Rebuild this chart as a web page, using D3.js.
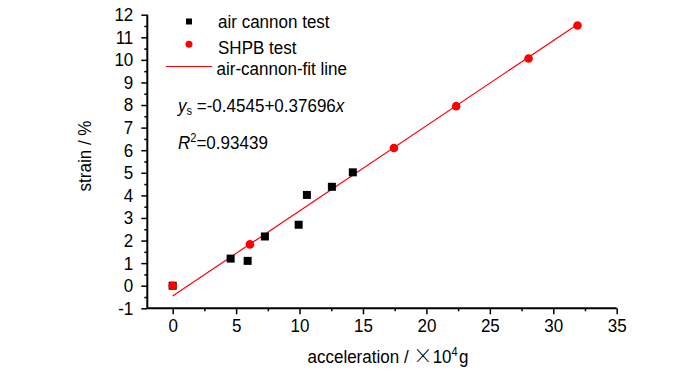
<!DOCTYPE html>
<html>
<head>
<meta charset="utf-8">
<script src="https://cdn.jsdelivr.net/npm/d3@7"></script>
<style>
  body { margin: 0; background: #fff; }
  text { font-family: "Liberation Sans", Arial, sans-serif; }
</style>
</head>
<body>
<div id="chart"></div>
<script>
// air cannon test points (acceleration x10^4 g, strain %)
const airX = [0, 4.57, 5.91, 7.27, 9.93, 10.58, 12.55, 14.2];
const airY = [0, 1.2, 1.1, 2.18, 2.7, 4.02, 4.38, 5.02];

// SHPB test points
const shpbX = [0, 6.09, 17.44, 22.35, 28.05, 31.91];
const shpbY = [0, 1.83, 6.1, 7.95, 10.06, 11.52];

// linear fit: y = a + b x
const fitA = -0.4545, fitB = 0.37696;
const fitRange = [0, 31.9];

const xMajor = [0, 5, 10, 15, 20, 25, 30, 35];
const xMinor = [2.5, 7.5, 12.5, 17.5, 22.5, 27.5, 32.5];
const yMajor = d3.range(-1, 13);
const yMinor = d3.range(-0.5, 12, 1);

const width = 700, height = 373;
const fontSize = 18.5;
const squeeze = 0.92; // the original text is a bit narrow

const svg = d3.select("#chart")
  .append("svg")
  .attr("width", width)
  .attr("height", height);

const x = d3.scaleLinear().domain([-2, 35]).range([147.3, 616.7]);
const y = d3.scaleLinear().domain([-1, 12]).range([308.3, 14.7]);

// places a text at (px, py), narrowed horizontally
const addText = (px, py, anchor) => svg.append("text")
  .attr("transform", `translate(${px}, ${py}) scale(${squeeze}, 1)`)
  .attr("text-anchor", anchor || "start")
  .attr("font-size", fontSize);

// axes (major + minor ticks, outward)
const fmt = d => String(d); // plain hyphen for negatives
const gx = svg.append("g").attr("transform", `translate(0, ${y(-1)})`);
gx.call(d3.axisBottom(x).tickValues(xMajor).tickSize(6).tickPadding(5).tickFormat(fmt));
gx.append("g").call(d3.axisBottom(x).tickValues(xMinor).tickSize(3).tickFormat(""));

const gy = svg.append("g").attr("transform", `translate(${x(-2)}, 0)`);
gy.call(d3.axisLeft(y).tickValues(yMajor).tickSize(6).tickPadding(8).tickFormat(fmt));
gy.append("g").call(d3.axisLeft(y).tickValues(yMinor).tickSize(3).tickFormat(""));

svg.selectAll(".domain").remove();
svg.selectAll(".tick line").attr("stroke", "#000").attr("stroke-width", 1.5);
svg.selectAll(".tick text")
  .attr("font-size", fontSize)
  .attr("fill", "#000")
  .style("font-family", "'Liberation Sans', Arial, sans-serif")
  .attr("transform", `scale(${squeeze}, 1)`);
gy.selectAll(".tick text").attr("x", -14 / squeeze);

// axis lines
svg.append("line")
  .attr("x1", x(-2)).attr("x2", x(35))
  .attr("y1", y(-1)).attr("y2", y(-1))
  .attr("stroke", "#000").attr("stroke-width", 2);
svg.append("line")
  .attr("x1", x(-2)).attr("x2", x(-2))
  .attr("y1", y(-1)).attr("y2", y(12))
  .attr("stroke", "#000").attr("stroke-width", 2);

// axis titles
addText(388, 363, "middle")
  .html('acceleration / <tspan font-size="21" font-weight="200" style="font-family:\'Noto Sans CJK SC\', sans-serif">\u00d7</tspan><tspan>10</tspan><tspan dy="-7" font-size="12">4</tspan><tspan dy="7" dx="1.5">g</tspan>');

svg.append("text")
  .attr("transform", `translate(91, 156) rotate(-90) scale(${squeeze}, 1)`)
  .attr("text-anchor", "middle")
  .attr("font-size", fontSize)
  .text("strain / %");

// fit line
svg.append("line")
  .attr("x1", x(fitRange[0])).attr("y1", y(fitA + fitB * fitRange[0]))
  .attr("x2", x(fitRange[1])).attr("y2", y(fitA + fitB * fitRange[1]))
  .attr("stroke", "#ff0000").attr("stroke-width", 1.2);

// air cannon squares
const airData = airX.map((d, i) => ({ x: d, y: airY[i] }));
svg.selectAll("rect.air")
  .data(airData)
  .enter()
  .append("rect")
  .attr("class", "air")
  .attr("x", d => x(d.x) - 4)
  .attr("y", d => y(d.y) - 4)
  .attr("width", 8)
  .attr("height", 8)
  .attr("fill", "#000");

// SHPB circles
const shpbData = shpbX.map((d, i) => ({ x: d, y: shpbY[i] }));
svg.selectAll("circle.shpb")
  .data(shpbData)
  .enter()
  .append("circle")
  .attr("class", "shpb")
  .attr("cx", d => x(d.x))
  .attr("cy", d => y(d.y))
  .attr("r", 4.3)
  .attr("fill", "#ff0000");

// legend
svg.append("rect").attr("x", 186).attr("y", 18.5).attr("width", 6).attr("height", 6).attr("fill", "#000");
svg.append("circle").attr("cx", 189).attr("cy", 44.3).attr("r", 3.5).attr("fill", "#ff0000");
svg.append("line").attr("x1", 166).attr("x2", 212).attr("y1", 66.5).attr("y2", 66.5)
  .attr("stroke", "#ff0000").attr("stroke-width", 1.2);
const legendLabels = ["air cannon test", "SHPB test", "air-cannon-fit line"];
const legendY = [28, 53.5, 75];
const legendX = [218, 218, 216.5];
legendLabels.forEach((t, i) => {
  addText(legendX[i], legendY[i]).text(t);
});

// equation text
addText(178, 112)
  .html('<tspan font-style="italic">y</tspan><tspan dy="3" font-size="12">s</tspan><tspan dy="-3"> =-0.4545+0.37696</tspan><tspan font-style="italic">x</tspan>');

addText(178, 149)
  .html('<tspan font-style="italic">R</tspan><tspan dy="-7" font-size="12">2</tspan><tspan dy="7">=0.93439</tspan>');
</script>
</body>
</html>
